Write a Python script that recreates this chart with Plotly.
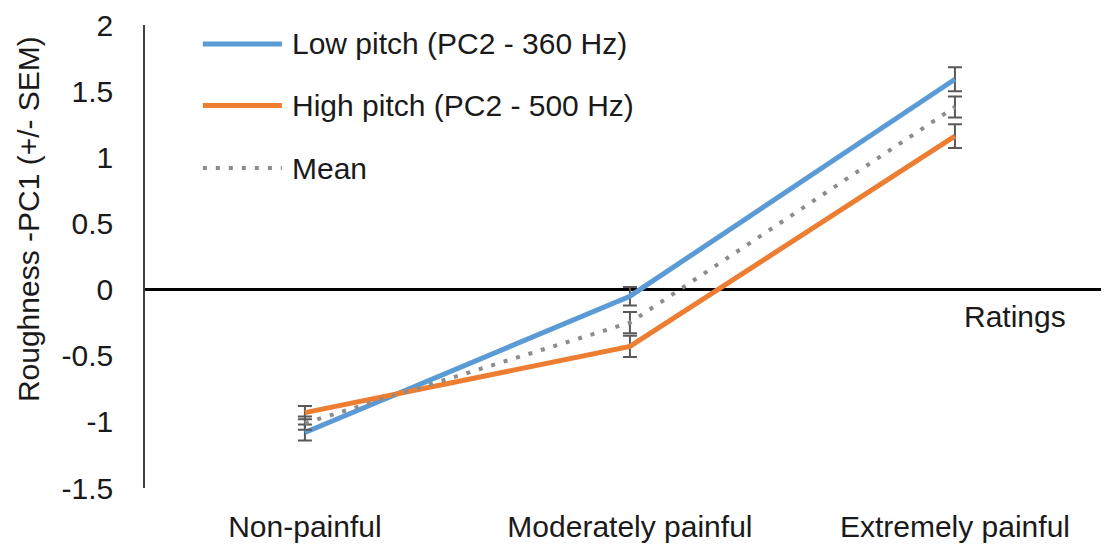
import plotly.graph_objects as go

# data
categories = ['Non-painful', 'Moderately painful', 'Extremely painful']
low_pitch = [-1.08, -0.05, 1.59]
low_pitch_sem = [0.06, 0.07, 0.09]
high_pitch = [-0.93, -0.43, 1.16]
high_pitch_sem = [0.05, 0.08, 0.09]
mean_vals = [-1.01, -0.25, 1.38]
mean_sem = [0.05, 0.08, 0.08]

names = ['Low pitch (PC2 - 360 Hz)', 'High pitch (PC2 - 500 Hz)', 'Mean']
colors = ['#5B9BD5', '#ED7D31', '#8C8C8C']
y_ticks = [2, 1.5, 1, 0.5, 0, -0.5, -1, -1.5]
y_tick_labels = ['2', '1.5', '1', '0.5', '0', '-0.5', '-1', '-1.5']

FONT = 'Arial, Liberation Sans, sans-serif'
FS = 30
ERR = '#595959'

def err(vals):
    return dict(type='data', array=vals, color=ERR, thickness=2, width=7)

fig = go.Figure()
fig.add_trace(go.Scatter(x=categories, y=low_pitch, mode='lines', name=names[0],
                         line=dict(color=colors[0], width=5), error_y=err(low_pitch_sem)))
fig.add_trace(go.Scatter(x=categories, y=high_pitch, mode='lines', name=names[1],
                         line=dict(color=colors[1], width=5), error_y=err(high_pitch_sem)))
fig.add_trace(go.Scatter(x=categories, y=mean_vals, mode='lines', name=names[2],
                         line=dict(color=colors[2], width=4, dash='4px,9px'), error_y=err(mean_sem)))

# hand-made legend (long line samples like the original)
leg_y = [0.959, 0.826, 0.691]
for i in range(3):
    dash = 'solid' if i < 2 else '4px,9px'
    fig.add_shape(type='line', xref='paper', yref='paper', x0=0.060, x1=0.142,
                  y0=leg_y[i], y1=leg_y[i],
                  line=dict(color=colors[i], width=5 if i < 2 else 4, dash=dash))
    fig.add_annotation(xref='paper', yref='paper', x=0.150, y=leg_y[i], text=names[i],
                       showarrow=False, xanchor='left', yanchor='middle',
                       font=dict(family=FONT, size=FS, color='#1a1a1a'))

fig.add_annotation(xref='paper', yref='paper', x=0.9025, y=0.371, text='Ratings',
                   showarrow=False, xanchor='center', yanchor='middle',
                   font=dict(family=FONT, size=FS, color='#1a1a1a'))
fig.add_annotation(xref='paper', yref='paper', x=-0.121, y=0.5815,
                   text='Roughness -PC1 (+/- SEM)', textangle=-90,
                   showarrow=False, xanchor='center', yanchor='middle',
                   font=dict(family=FONT, size=FS, color='#1a1a1a'))

# page body has an 8px margin, so the figure is a bit smaller than the window
fig.update_layout(
    width=1101, height=542,
    margin=dict(l=137, r=0, t=14, b=62),
    paper_bgcolor='white', plot_bgcolor='white',
    showlegend=False,
    font=dict(family=FONT, size=FS, color='#1a1a1a'),
    xaxis=dict(type='category', range=[-0.492, 2.474], showgrid=False,
               zeroline=False, showline=False, ticks='', ticklabelstandoff=18),
    yaxis=dict(range=[-1.5, 2], tickvals=y_ticks, ticktext=y_tick_labels,
               showgrid=False, zeroline=True, zerolinecolor='black', zerolinewidth=3,
               showline=True, linecolor='#404040', linewidth=1.5,
               ticks='', ticklabelstandoff=24, ticklabeloverflow='allow'),
)

fig.write_html("out.html")
